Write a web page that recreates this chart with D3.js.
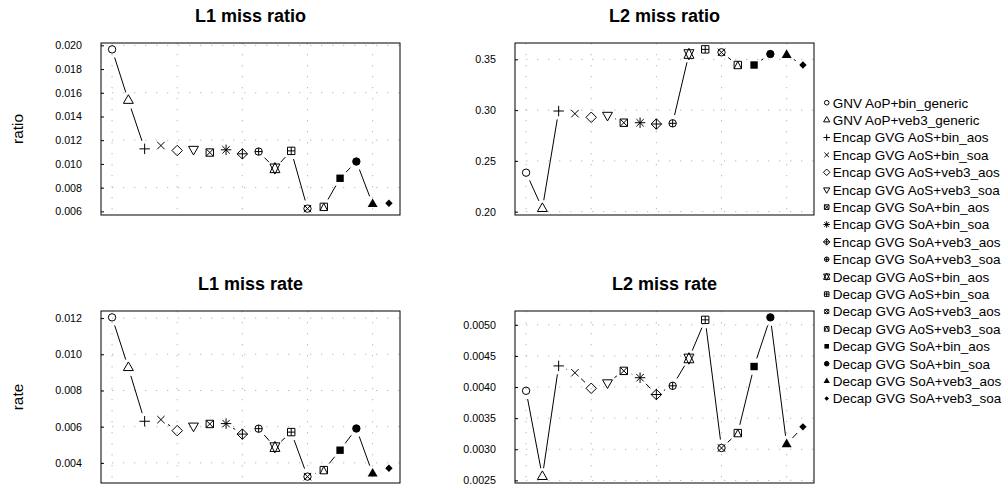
<!DOCTYPE html>
<html>
<head>
<meta charset="utf-8">
<script src="https://cdn.jsdelivr.net/npm/d3@7"></script>
<style>
  body { margin: 0; background: #fff; }
  text { font-family: "Liberation Sans", Arial, Helvetica, sans-serif; fill: #000; }
</style>
</head>
<body>
<svg id="chart"></svg>
<script>
// Chart size
var width = 1008;
var height = 490;

// Series names (one point per series, plotted in this order, pch 1..18)
var seriesLabels = [
    "GNV AoP+bin_generic", "GNV AoP+veb3_generic",
    "Encap GVG AoS+bin_aos", "Encap GVG AoS+bin_soa",
    "Encap GVG AoS+veb3_aos", "Encap GVG AoS+veb3_soa",
    "Encap GVG SoA+bin_aos", "Encap GVG SoA+bin_soa",
    "Encap GVG SoA+veb3_aos", "Encap GVG SoA+veb3_soa",
    "Decap GVG AoS+bin_aos", "Decap GVG AoS+bin_soa",
    "Decap GVG AoS+veb3_aos", "Decap GVG AoS+veb3_soa",
    "Decap GVG SoA+bin_aos", "Decap GVG SoA+bin_soa",
    "Decap GVG SoA+veb3_aos", "Decap GVG SoA+veb3_soa"
];

// Values
var l1Ratio = [0.01966, 0.01535, 0.01127, 0.01155, 0.01113, 0.01124, 0.01096, 0.01119, 0.01085,
               0.01104, 0.00963, 0.0111, 0.00623, 0.00638, 0.00879, 0.0102, 0.0066, 0.00668];
var l2Ratio = [0.2384, 0.2030, 0.2991, 0.2965, 0.2929, 0.2950, 0.2876, 0.2876, 0.2863,
               0.2870, 0.3552, 0.3598, 0.3569, 0.3444, 0.3444, 0.3552, 0.3542, 0.3444];
var l1Rate = [0.01204, 0.00926, 0.0063, 0.00639, 0.00578, 0.00604, 0.00615, 0.00617, 0.00559,
              0.00589, 0.00487, 0.0057, 0.00324, 0.0036, 0.0047, 0.0059, 0.0034, 0.0037];
var l2Rate = [0.00394, 0.00256, 0.00434, 0.00423, 0.00398, 0.00407, 0.00426, 0.00415, 0.00388,
              0.00402, 0.00446, 0.00508, 0.00302, 0.00326, 0.00433, 0.00512, 0.00308, 0.00336];

// Tick labels and grid positions
var l1RatioTicks = [0.006, 0.008, 0.010, 0.012, 0.014, 0.016, 0.018, 0.020];
var l1RatioGrid = [0.008, 0.012, 0.016, 0.020];
var l2RatioTicks = [0.20, 0.25, 0.30, 0.35];
var l1RateTicks = [0.004, 0.006, 0.008, 0.010, 0.012];
var l2RateTicks = [0.0025, 0.0030, 0.0035, 0.0040, 0.0045, 0.0050];
var xGrid = [1, 5, 9, 13, 17];

var panels = [
    { title: "L1 miss ratio", ylab: "ratio", values: l1Ratio, ticks: l1RatioTicks, grid: l1RatioGrid, fmt: ".3f", left: 101, top: 43 },
    { title: "L2 miss ratio", ylab: "", values: l2Ratio, ticks: l2RatioTicks, grid: l2RatioTicks, fmt: ".2f", left: 515, top: 43 },
    { title: "L1 miss rate", ylab: "rate", values: l1Rate, ticks: l1RateTicks, grid: l1RateTicks, fmt: ".3f", left: 101, top: 311 },
    { title: "L2 miss rate", ylab: "", values: l2Rate, ticks: l2RateTicks, grid: l2RateTicks, fmt: ".4f", left: 515, top: 311 }
];

var plotW = 299;
var plotH = 172;
var radius = 3.7;      // marker size in the plots
var legendRadius = 2.3;
var lineGap = 8.5;     // type="b" gap around each point

var svg = d3.select("#chart")
    .attr("width", width)
    .attr("height", height);

// R-like symbol shapes, returns list of {d, fill}
var TRC0 = Math.sqrt(4 * Math.PI / (3 * Math.sqrt(3)));
var TRC1 = TRC0 * Math.sqrt(3) / 2;
var TRC2 = TRC0 / 2;

function circleD(r) {
    return "M" + r + ",0A" + r + "," + r + " 0 1 1 " + (-r) + ",0A" + r + "," + r + " 0 1 1 " + r + ",0Z";
}
function plusD(s) { return "M" + (-s) + ",0H" + s + "M0," + (-s) + "V" + s; }
function crossD(s) { return "M" + (-s) + "," + (-s) + "L" + s + "," + s + "M" + (-s) + "," + s + "L" + s + "," + (-s); }
function squareD(s) { return "M" + (-s) + "," + (-s) + "H" + s + "V" + s + "H" + (-s) + "Z"; }
function diamondD(s) { return "M0," + (-s) + "L" + s + ",0L0," + s + "L" + (-s) + ",0Z"; }
function triUpD(R) {
    return "M0," + (-TRC0 * R) + "L" + (TRC1 * R) + "," + (TRC2 * R) + "L" + (-TRC1 * R) + "," + (TRC2 * R) + "Z";
}
function triDownD(R) {
    return "M0," + (TRC0 * R) + "L" + (TRC1 * R) + "," + (-TRC2 * R) + "L" + (-TRC1 * R) + "," + (-TRC2 * R) + "Z";
}

function symbolParts(pch, R) {
    var s2 = Math.SQRT2 * R;
    switch (pch) {
        case 1: return [{ d: circleD(R) }];
        case 2: return [{ d: triUpD(R) }];
        case 3: return [{ d: plusD(s2) }];
        case 4: return [{ d: crossD(R) }];
        case 5: return [{ d: diamondD(s2) }];
        case 6: return [{ d: triDownD(R) }];
        case 7: return [{ d: squareD(R) + crossD(R) }];
        case 8: return [{ d: crossD(R) + plusD(s2) }];
        case 9: return [{ d: diamondD(s2) + plusD(s2) }];
        case 10: return [{ d: circleD(R) + plusD(R) }];
        case 11:
            var r = TRC0 * R, yc = 0.5 * (TRC2 * R + r), xc = TRC1 * R;
            return [{ d: "M0," + r + "L" + xc + "," + (-yc) + "L" + (-xc) + "," + (-yc) + "Z" +
                         "M0," + (-r) + "L" + xc + "," + yc + "L" + (-xc) + "," + yc + "Z" }];
        case 12: return [{ d: squareD(R) + plusD(R) }];
        case 13: return [{ d: circleD(R) + crossD(R) }];
        case 14: return [{ d: squareD(R) + "M0," + (-R) + "L" + R + "," + R + "M0," + (-R) + "L" + (-R) + "," + R }];
        case 15: return [{ d: squareD(R), fill: true, noStroke: true }];
        case 16: return [{ d: circleD(R), fill: true }];
        case 17: return [{ d: triUpD(R), fill: true, noStroke: true }];
        case 18: return [{ d: diamondD(R), fill: true, noStroke: true }];
    }
    return [];
}

function drawSymbol(g, pch, x, y, R) {
    var sg = g.append("g").attr("transform", "translate(" + x + "," + y + ")");
    symbolParts(pch, R).forEach(function (p) {
        sg.append("path")
            .attr("d", p.d)
            .attr("fill", p.fill ? "#000" : "none")
            .attr("stroke", p.noStroke ? "none" : "#000")
            .attr("stroke-width", 1);
    });
}

// Draw one panel
function drawPanel(p) {
    var g = svg.append("g").attr("transform", "translate(" + p.left + "," + p.top + ")");
    var n = p.values.length;

    // R style 4% padding on both axes
    var x = d3.scaleLinear().domain([1 - 0.04 * (n - 1), n + 0.04 * (n - 1)]).range([0, plotW]);
    var ext = d3.extent(p.values);
    var pad = 0.04 * (ext[1] - ext[0]);
    var y = d3.scaleLinear().domain([ext[0] - pad, ext[1] + pad]).range([plotH, 0]);

    // dotted grid
    g.selectAll("line.vgrid")
        .data(xGrid)
        .enter().append("line")
        .attr("class", "vgrid")
        .attr("x1", function (d) { return x(d); })
        .attr("x2", function (d) { return x(d); })
        .attr("y1", 0).attr("y2", plotH)
        .attr("stroke", "#b8b8b8")
        .attr("stroke-dasharray", "1.3,9.7");
    g.selectAll("line.hgrid")
        .data(p.grid)
        .enter().append("line")
        .attr("class", "hgrid")
        .attr("x1", 0).attr("x2", plotW)
        .attr("y1", function (d) { return y(d); })
        .attr("y2", function (d) { return y(d); })
        .attr("stroke", "#b8b8b8")
        .attr("stroke-dasharray", "1.3,9.7");

    // y axis: ticks point inside, labels further left
    var axis = d3.axisRight(y)
        .tickValues(p.ticks)
        .tickFormat(d3.format(p.fmt))
        .tickSize(3)
        .tickPadding(-22 - 3);
    var ax = g.append("g").call(axis);
    ax.select(".domain").remove();
    ax.selectAll(".tick line").attr("stroke", "#000");
    ax.selectAll(".tick text")
        .attr("text-anchor", "end")
        .attr("x", -19)
        .style("font-size", "10.7px")
        .style("font-family", "'Liberation Sans', Arial, sans-serif");

    // lines with gaps (type = "b")
    var pts = p.values.map(function (v, i) { return { x: x(i + 1), y: y(v) }; });
    var segs = [];
    for (let i = 1; i < pts.length; i++) {
        var a = pts[i - 1], b = pts[i];
        var dist = Math.sqrt((b.x - a.x) ** 2 + (b.y - a.y) ** 2);
        var f = lineGap / dist;
        if (f < 0.5) {
            segs.push({
                x1: a.x + f * (b.x - a.x), y1: a.y + f * (b.y - a.y),
                x2: b.x - f * (b.x - a.x), y2: b.y - f * (b.y - a.y)
            });
        }
    }
    g.selectAll("line.seg")
        .data(segs)
        .enter().append("line")
        .attr("class", "seg")
        .attr("x1", function (d) { return d.x1; })
        .attr("y1", function (d) { return d.y1; })
        .attr("x2", function (d) { return d.x2; })
        .attr("y2", function (d) { return d.y2; })
        .attr("stroke", "#000")
        .attr("stroke-width", 1);

    // points
    pts.forEach(function (d, i) { drawSymbol(g, i + 1, d.x, d.y, radius); });

    // box
    g.append("rect")
        .attr("width", plotW).attr("height", plotH)
        .attr("fill", "none").attr("stroke", "#000").attr("stroke-width", 1);

    // title
    g.append("text")
        .attr("x", plotW / 2).attr("y", -21)
        .attr("text-anchor", "middle")
        .style("font-size", "18px").style("font-weight", "bold")
        .text(p.title);

    // y label
    if (p.ylab) {
        g.append("text")
            .attr("transform", "translate(" + (23 - p.left) + "," + (plotH / 2) + ") rotate(-90)")
            .attr("text-anchor", "middle")
            .style("font-size", "15.4px")
            .text(p.ylab);
    }
}

panels.forEach(drawPanel);

// Legend
var legend = svg.append("g").attr("transform", "translate(826.7,102.7)");
seriesLabels.forEach(function (label, i) {
    var yy = i * 17.4;
    drawSymbol(legend, i + 1, 0, yy, legendRadius);
    legend.append("text")
        .attr("x", 6).attr("y", yy)
        .attr("dy", "0.36em")
        .style("font-size", "13.5px")
        .text(label);
});
</script>
</body>
</html>
